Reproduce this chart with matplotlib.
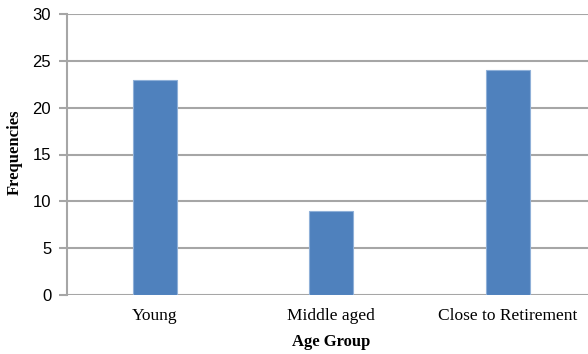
import matplotlib
matplotlib.use("Agg")
import matplotlib.pyplot as plt
import numpy as np

# data
groups = ["Young", "Middle aged", "Close to Retirement"]
freqs = [23, 9, 24]
yticks = [0, 5, 10, 15, 20, 25, 30]

W, H = 588, 354
fig = plt.figure(figsize=(W / 100, H / 100), dpi=100)
# plot area runs a little past the right edge, as in the reference
ax = fig.add_axes([66.5 / W, 1 - 295 / H, (596 - 66.5) / W, (295 - 14) / H])

x = np.arange(len(groups))
ax.bar(x, freqs, width=0.25, color="#4f81bd", edgecolor="#8fb0d8", linewidth=0.8, zorder=3)

ax.set_xlim(-0.5, 2.5)
ax.set_ylim(0, 30)
ax.set_yticks(yticks)
ax.yaxis.grid(True, color="#a6a6a6", linewidth=1.5, zorder=0)
ax.set_axisbelow(True)

for s in ["top", "right", "bottom"]:
    ax.spines[s].set_visible(False)
ax.spines["left"].set_color("#a6a6a6")
ax.spines["left"].set_linewidth(1.5)

ax.tick_params(axis="y", length=6, width=1.5, color="#a6a6a6", pad=5, labelsize=12)
for lab in ax.get_yticklabels():
    lab.set_fontfamily("Liberation Sans")

ax.set_xticks(x)
ax.set_xticklabels(groups, fontfamily="Liberation Serif", fontsize=12.5)
ax.tick_params(axis="x", length=0, pad=9)

ax.set_xlabel("Age Group", fontfamily="Liberation Serif", fontweight="bold", fontsize=12)
ax.xaxis.set_label_coords(0.5, -0.14)
fig.text(15 / W, 1 - 152 / H, "Frequencies", rotation=90, ha="center", va="center",
         fontfamily="Liberation Serif", fontweight="bold", fontsize=12)

fig.savefig("out.png", dpi=100)
